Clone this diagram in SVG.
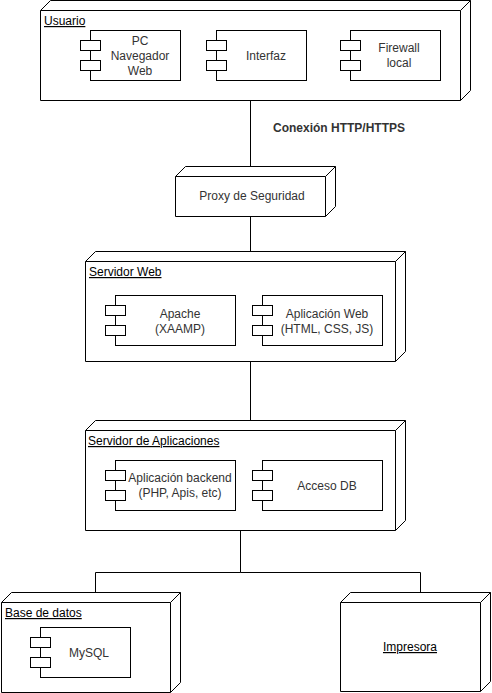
<svg xmlns="http://www.w3.org/2000/svg" width="492" height="693" viewBox="0 0 492 693">
<style>
.n{fill:#fff;stroke:#000;stroke-width:1}
.l{fill:none;stroke:#000;stroke-width:1}
.c{fill:#fff;stroke:#000;stroke-width:1}
text{font-family:"Liberation Sans",Arial,sans-serif;font-size:12px}
.t{fill:#333;text-anchor:middle}
.u{fill:#000;text-decoration:underline}
.b{fill:#333;font-weight:bold}
</style>
<defs>
<g id="ports">
<rect class="c" x="0" y="10" width="20" height="10"/>
<rect class="c" x="0" y="30" width="20" height="10"/>
</g>
</defs>
<rect x="0" y="0" width="492" height="693" fill="#fff"/>
<g id="connectors">
<path class="l" d="M250.5,100.5 V166.5"/>
<path class="l" d="M250.5,216.5 V251.5"/>
<path class="l" d="M250.5,361.5 V420.5"/>
<path class="l" d="M240.5,530.5 V572.5 H95.5 V592.5"/>
<path class="l" d="M240.5,572.5 H420.5 V592.5"/>
<text class="b" x="273" y="132">Conexión HTTP/HTTPS</text>
</g>
<g id="usuario">
<path class="n" d="M40.5,10.5 L50.5,0.5 L470.5,0.5 L470.5,90.5 L460.5,100.5 L40.5,100.5 Z"/>
<path class="l" d="M40.5,10.5 H460.5 L470.5,0.5 M460.5,10.5 V100.5"/>
<text class="u" x="44" y="25">Usuario</text>
</g>
<g id="pc">
<rect class="c" x="90.5" y="30.5" width="90" height="50"/>
<use href="#ports" x="80.5" y="30.5"/>
<text class="t" x="140" y="44.5">PC</text>
<text class="t" x="140" y="59.5">Navegador</text>
<text class="t" x="140" y="74.5">Web</text>
</g>
<g id="interfaz">
<rect class="c" x="216.5" y="30.5" width="90" height="50"/>
<use href="#ports" x="206.5" y="30.5"/>
<text class="t" x="266" y="59.5">Interfaz</text>
</g>
<g id="firewall">
<rect class="c" x="350.5" y="30.5" width="90" height="50"/>
<use href="#ports" x="340.5" y="30.5"/>
<text class="t" x="399" y="52">Firewall</text>
<text class="t" x="399" y="67">local</text>
</g>
<g id="proxy">
<path class="n" d="M175.5,176.5 L185.5,166.5 L335.5,166.5 L335.5,206.5 L325.5,216.5 L175.5,216.5 Z"/>
<path class="l" d="M175.5,176.5 H325.5 L335.5,166.5 M325.5,176.5 V216.5"/>
<text class="t" x="252" y="200">Proxy de Seguridad</text>
</g>
<g id="servidor-web">
<path class="n" d="M85.5,261.5 L95.5,251.5 L405.5,251.5 L405.5,351.5 L395.5,361.5 L85.5,361.5 Z"/>
<path class="l" d="M85.5,261.5 H395.5 L405.5,251.5 M395.5,261.5 V361.5"/>
<text class="u" x="89" y="276">Servidor Web</text>
</g>
<g id="apache">
<rect class="c" x="115.5" y="295.5" width="120" height="50"/>
<use href="#ports" x="105.5" y="295.5"/>
<text class="t" x="180" y="318">Apache</text>
<text class="t" x="180" y="333">(XAAMP)</text>
</g>
<g id="aplicacion-web">
<rect class="c" x="262.5" y="295.5" width="120" height="50"/>
<use href="#ports" x="252.5" y="295.5"/>
<text class="t" x="327" y="318">Aplicación Web</text>
<text class="t" x="327" y="333">(HTML, CSS, JS)</text>
</g>
<g id="servidor-aplicaciones">
<path class="n" d="M85.5,430.5 L95.5,420.5 L405.5,420.5 L405.5,520.5 L395.5,530.5 L85.5,530.5 Z"/>
<path class="l" d="M85.5,430.5 H395.5 L405.5,420.5 M395.5,430.5 V530.5"/>
<text class="u" x="88" y="445">Servidor de Aplicaciones</text>
</g>
<g id="backend">
<rect class="c" x="115.5" y="460.5" width="120" height="50"/>
<use href="#ports" x="105.5" y="460.5"/>
<text class="t" x="180" y="482">Aplicación backend</text>
<text class="t" x="180" y="497">(PHP, Apis, etc)</text>
</g>
<g id="acceso-db">
<rect class="c" x="262.5" y="460.5" width="120" height="50"/>
<use href="#ports" x="252.5" y="460.5"/>
<text class="t" x="327" y="489.5">Acceso DB</text>
</g>
<g id="base-datos">
<path class="n" d="M1.5,602.5 L11.5,592.5 L180.5,592.5 L180.5,682.5 L170.5,692.5 L1.5,692.5 Z"/>
<path class="l" d="M1.5,602.5 H170.5 L180.5,592.5 M170.5,602.5 V692.5"/>
<text class="u" x="5" y="617">Base de datos</text>
</g>
<g id="mysql">
<rect class="c" x="40.5" y="627.5" width="90" height="50"/>
<use href="#ports" x="30.5" y="627.5"/>
<text class="t" x="89" y="656.5">MySQL</text>
</g>
<g id="impresora">
<path class="n" d="M340.5,602.5 L350.5,592.5 L490.5,592.5 L490.5,681.5 L480.5,691.5 L340.5,691.5 Z"/>
<path class="l" d="M340.5,602.5 H480.5 L490.5,592.5 M480.5,602.5 V691.5"/>
<text class="u" x="410" y="651" text-anchor="middle">Impresora</text>
</g>
</svg>
